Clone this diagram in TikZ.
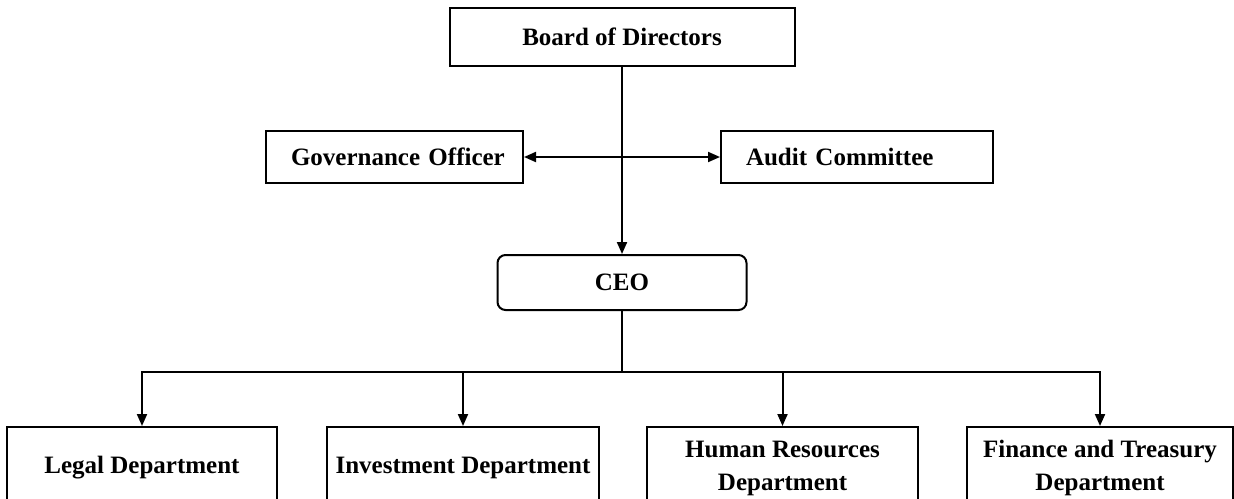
\documentclass[tikz,border=0pt]{standalone}
\usepackage{fontspec}
\setmainfont{Liberation Serif}
\usetikzlibrary{arrows.meta}

\begin{document}
\begin{tikzpicture}[x=0.5pt, y=-0.5pt,
        font=\fontsize{12.5}{16.5}\selectfont\bfseries,
        box/.style={draw, line width=1pt, inner sep=0pt, align=center},
        sidebox/.style={box, align=left, inner xsep=12.5pt},
        dept/.style={box, anchor=north, minimum height=41pt},
        arr/.style={line width=1pt, -{Triangle[length=6pt, width=5pt]}},
        biarr/.style={line width=1pt, {Triangle[length=6pt, width=5pt]}-{Triangle[length=6pt, width=5pt]}}]
                \useasboundingbox (0, 0) rectangle (1234, 498);
                \clip (0, 0) rectangle (1234, 498);
                \node[box, minimum width=172.5pt, minimum height=29pt] (board) at (622, 37) {Board of Directors};
                \node[sidebox, text width=103.5pt, minimum height=26pt] (gov) at (394.5, 157) {\mbox{Governance Officer}};
                \node[sidebox, text width=111pt, minimum height=26pt] (audit) at (857, 157) {\mbox{Audit Committee}};
                \node[box, rounded corners=4pt, minimum width=124.5pt, minimum height=27.5pt] (ceo) at (622, 282.5) {CEO};
                \node[dept, minimum width=135pt] (legal) at (142, 426) {Legal Department};
                \node[dept, minimum width=136pt] (invest) at (463, 426) {Investment Department};
                \node[dept, minimum width=135.5pt] (hr) at (782.5, 426) {Human Resources\\Department};
                \node[dept, minimum width=133pt] (finance) at (1100, 426) {Finance and Treasury\\Department};
                \coordinate (bus) at (622, 372);
                \draw[arr] (board) -- (ceo);
                \draw[biarr] (gov) -- (audit);
                \draw[line width=1pt] (ceo) -- (bus);
                \foreach \d in {legal, invest, hr, finance}
                    \draw[arr] (bus) -| (\d.north);
            \end{tikzpicture}
\end{document}
